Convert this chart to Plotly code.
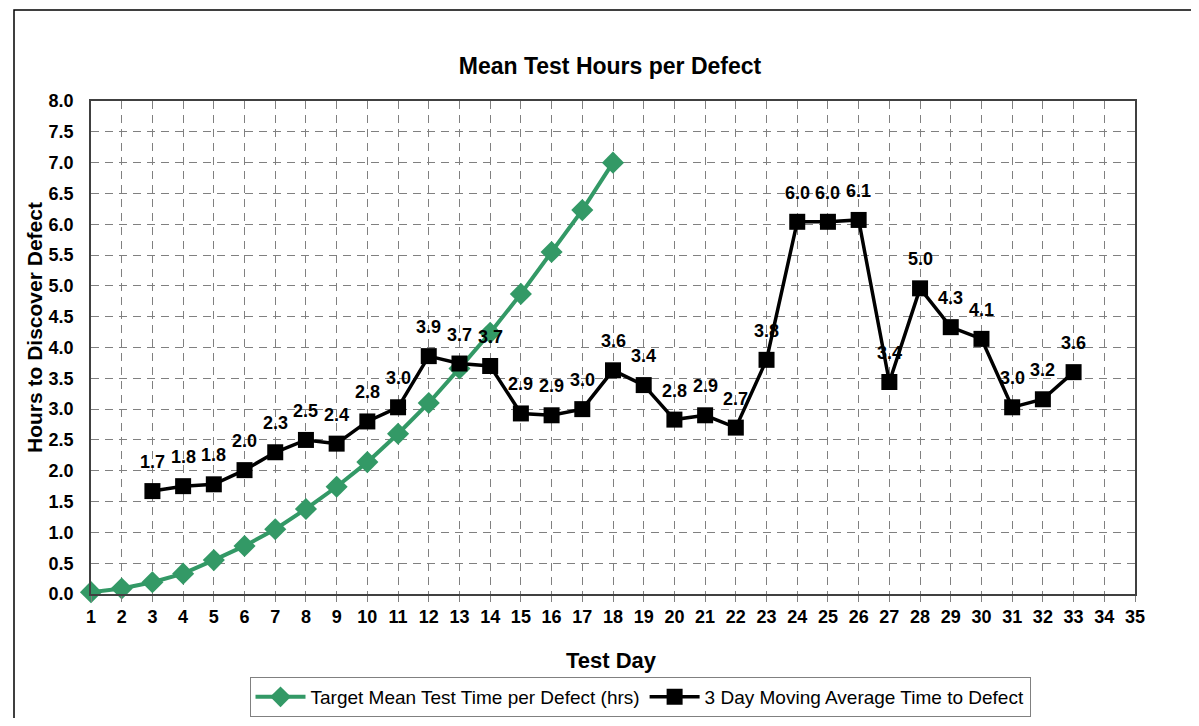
import plotly.graph_objects as go

days_target = list(range(1, 19))
target_hours = [0.03, 0.09, 0.19, 0.33, 0.55, 0.78, 1.05, 1.38, 1.74, 2.14,
                2.6, 3.1, 3.66, 4.24, 4.87, 5.55, 6.23, 7.0]

days_avg = list(range(3, 34))
avg_hours = [1.67, 1.75, 1.78, 2.01, 2.3, 2.5, 2.44, 2.8, 3.03, 3.86, 3.74, 3.7,
             2.93, 2.9, 3.0, 3.63, 3.39, 2.83, 2.9, 2.7, 3.8, 6.04, 6.04, 6.07,
             3.44, 4.96, 4.33, 4.14, 3.03, 3.16, 3.6]

x_ticks = list(range(1, 36))
y_ticks = [i * 0.5 for i in range(17)]

GREEN = "#339966"
FONT = "Liberation Sans, Arial, sans-serif"

fig = go.Figure()
fig.add_trace(go.Scatter(
    x=days_target, y=target_hours, mode="lines+markers",
    name="Target Mean Test Time per Defect (hrs)",
    line=dict(color=GREEN, width=4),
    marker=dict(symbol="diamond", size=17, color=GREEN),
    cliponaxis=False,
))
fig.add_trace(go.Scatter(
    x=days_avg, y=avg_hours, mode="lines+markers",
    name="3 Day Moving Average Time to Defect",
    line=dict(color="black", width=3.5),
    marker=dict(symbol="square", size=16, color="black"),
    cliponaxis=False,
))

annotations = []
for d, v in zip(days_avg, avg_hours):
    annotations.append(dict(
        x=d, y=v, xref="x", yref="y", text=f"{v:.1f}", showarrow=False,
        yshift=29, font=dict(family=FONT, size=18, color="black", weight="bold"),
    ))

OFF = 8  # page body margin
W, H = 1199 - 2 * OFF, 726 - 2 * OFF
PL, PR, PT, PB = 91, 1135, 101, 594  # plot area in page pixels
L, R, T, B = PL - OFF, W - (PR - OFF), PT - OFF, H - (PB - OFF)
pw, ph = PR - PL, PB - PT

def px(xp):
    return (xp - PL) / pw

def py(yp):
    return (PB - yp) / ph

annotations.append(dict(
    x=px(611), y=py(660), xref="paper", yref="paper", text="Test Day",
    showarrow=False, xanchor="center", yanchor="middle",
    font=dict(family=FONT, size=22, color="black", weight="bold"),
))
annotations.append(dict(
    x=px(34), y=py(328), xref="paper", yref="paper", text="Hours to Discover Defect",
    showarrow=False, xanchor="center", yanchor="middle", textangle=-90,
    font=dict(family=FONT, size=21, color="black", weight="bold"),
))

shapes = [dict(
    type="rect", xref="paper", yref="paper",
    x0=px(14), y0=py(760), x1=px(1230), y1=py(10),
    line=dict(color="black", width=1.5), fillcolor="rgba(0,0,0,0)", layer="below",
)]

fig.update_layout(
    width=W, height=H,
    margin=dict(l=L, r=R, t=T, b=B, autoexpand=False),
    paper_bgcolor="white", plot_bgcolor="white",
    title=dict(text="Mean Test Hours per Defect", x=px(610), xref="paper",
               y=1 - (66 - OFF) / H, yanchor="middle", xanchor="center",
               font=dict(family=FONT, size=23, color="black", weight="bold")),
    showlegend=True,
    legend=dict(orientation="h", x=px(640), y=py(677), xanchor="center", yanchor="top",
                bordercolor="#808080", borderwidth=1,
                font=dict(family=FONT, size=19, color="black"),
                itemwidth=50, tracegroupgap=0),
    annotations=annotations,
    shapes=shapes,
)

fig.update_xaxes(
    range=[1, 35], tickvals=x_ticks, ticktext=[str(t) for t in x_ticks],
    showgrid=True, gridcolor="#808080", gridwidth=1, griddash="8px,6px",
    showline=True, linecolor="#404040", linewidth=1.5, mirror=True,
    ticks="outside", ticklen=6, tickcolor="#808080",
    tickfont=dict(family=FONT, size=18, color="black", weight="bold"),
    zeroline=False, automargin=False,
)
fig.update_yaxes(
    range=[0, 8], tickvals=y_ticks, ticktext=[f"{t:.1f}" for t in y_ticks],
    showgrid=True, gridcolor="#808080", gridwidth=1, griddash="8px,6px",
    showline=True, linecolor="#404040", linewidth=1.5, mirror=True,
    ticks="", ticklabelstandoff=12,
    tickfont=dict(family=FONT, size=18, color="black", weight="bold"),
    zeroline=False, automargin=False,
)

fig.write_html("out.html")
